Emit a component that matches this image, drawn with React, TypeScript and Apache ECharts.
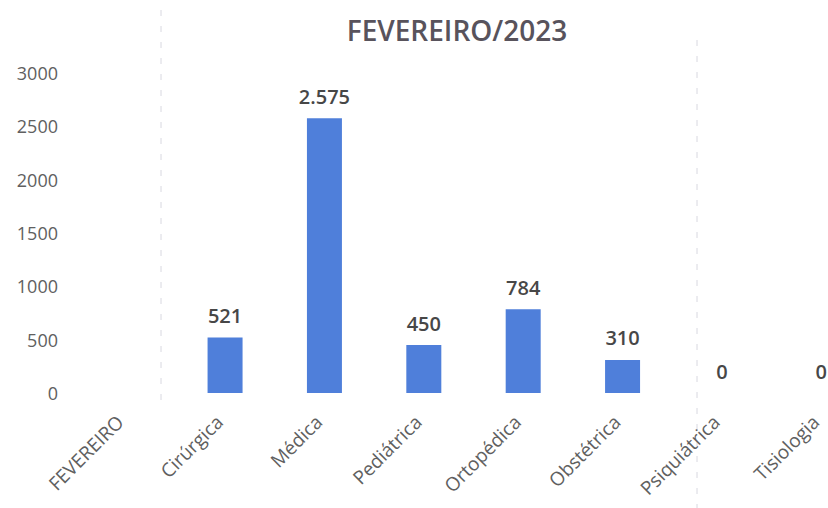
import React, { useEffect, useRef } from "react";
import * as echarts from "echarts";

const titleText = "FEVEREIRO/2023";
const categories = [
  "FEVEREIRO",
  "Cirúrgica",
  "Médica",
  "Pediátrica",
  "Ortopédica",
  "Obstétrica",
  "Psiquiátrica",
  "Tisiologia",
];
const values: (number | null)[] = [null, 521, 2575, 450, 784, 310, 0, 0];
const yMin = 0;
const yMax = 3000;
const yInterval = 500;

const fmt = (v: number) => String(v).replace(/\B(?=(\d{3})+(?!\d))/g, ".");

export default function App() {
  const ref = useRef<HTMLDivElement>(null);
  useEffect(() => {
    if (!ref.current) return;
    const chart = echarts.init(ref.current, undefined, { renderer: "svg" });
    chart.setOption({
      animation: false,
      backgroundColor: "#ffffff",
      textStyle: { fontFamily: "Open Sans" },
      title: {
        text: titleText,
        left: 452,
        top: 11,
        textAlign: "center",
        textStyle: {
          fontFamily: "Open Sans",
          fontSize: 28,
          fontWeight: 600,
          color: "#58535c",
        },
      },
      grid: {
        left: 76,
        right: -43,
        top: 73,
        bottom: 115,
        outerBoundsMode: "none",
        containLabel: false,
      },
      xAxis: {
        type: "category",
        data: categories,
        axisLine: { show: false },
        axisTick: { show: false },
        axisLabel: {
          rotate: 45,
          margin: 20,
          interval: 0,
          fontSize: 19,
          padding: [0, 8, 0, 0],
          color: "#606060",
          fontFamily: "Open Sans",
        },
      },
      yAxis: {
        type: "value",
        min: yMin,
        max: yMax,
        interval: yInterval,
        axisLine: { show: false },
        axisTick: { show: false },
        splitLine: { show: false },
        axisLabel: {
          margin: 18,
          fontSize: 18,
          color: "#606060",
          fontFamily: "Open Sans",
          formatter: (v: number) => String(v),
        },
      },
      series: [
        {
          type: "bar",
          data: values,
          barWidth: 35,
          itemStyle: { color: "#4f7fda" },
          label: {
            show: true,
            position: "top",
            distance: 12,
            fontSize: 20,
            fontWeight: 600,
            color: "#474747",
            fontFamily: "Open Sans",
            formatter: (p: any) => (p.value == null ? "" : fmt(p.value)),
          },
        },
      ],
      graphic: [
        {
          type: "line",
          shape: { x1: 161, y1: 10, x2: 161, y2: 400 },
          style: { stroke: "#d8d8e0", lineWidth: 1, lineDash: [6, 10] },
          silent: true,
        },
        {
          type: "line",
          shape: { x1: 697, y1: 40, x2: 697, y2: 508 },
          style: { stroke: "#d8d8e0", lineWidth: 1, lineDash: [6, 10] },
          silent: true,
        },
      ],
    });
    return () => chart.dispose();
  }, []);
  return (
    <div
      ref={ref}
      style={{ position: "fixed", left: 0, top: 0, width: 828, height: 508 }}
    />
  );
}
